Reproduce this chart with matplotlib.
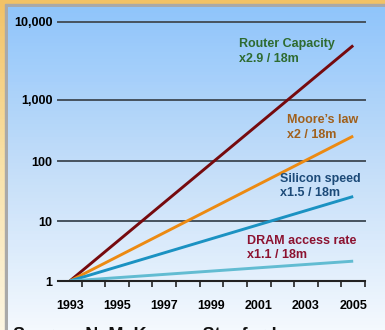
import numpy as np
import matplotlib
matplotlib.use('Agg')
import matplotlib.pyplot as plt
from matplotlib.colors import LinearSegmentedColormap
from matplotlib.patches import Rectangle

plt.rcParams['font.family'] = ['Liberation Sans', 'DejaVu Sans']
plt.rcParams['font.weight'] = 'bold'

# growth curves, normalised to 1 in 1993
years = [1993, 2005]
router = [1, 5000]
moore = [1, 256]
silicon = [1, 25.6]
dram = [1, 2.14]

label_years = [1993, 1995, 1997, 1999, 2001, 2003, 2005]
y_ticks = [1, 10, 100, 1000, 10000]
y_ticklabels = ['1', '10', '100', '1,000', '10,000']

# decades are not drawn evenly spaced on this slide, so map them piecewise
dec = [0, 1, 2, 3, 4]
pos = [0, 60, 120, 181, 259]


def fwd(v):
    return np.interp(np.log10(np.maximum(v, 1e-12)), dec, pos)


def inv(p):
    return 10 ** np.interp(p, pos, dec)


W, H = 385, 330
fig = plt.figure(figsize=(W / 100, H / 100), dpi=100)

# background: warm slide texture, grey frame, blue gradient panel
bg = fig.add_axes([0, 0, 1, 1], zorder=-5)
bg.set_xlim(0, W)
bg.set_ylim(H, 0)
bg.axis('off')
warm = LinearSegmentedColormap.from_list('warm', ['#f2c266', '#f9e2a8', '#fdf6e2'])
bg.imshow(np.linspace(0, 1, 100).reshape(-1, 1), cmap=warm, aspect='auto',
          extent=[0, W, H, 0], zorder=0)
bg.add_patch(Rectangle((5, 4), W, H, color='#a9a9a9', zorder=1))
blue = LinearSegmentedColormap.from_list('blue', ['#90c5fb', '#c4def9', '#f4f9fe'])
bg.imshow(np.linspace(0, 1, 100).reshape(-1, 1), cmap=blue, aspect='auto',
          extent=[8, W + 1, H + 1, 7], zorder=2)

ax = fig.add_axes([58 / W, (H - 281) / H, 307 / W, 259 / H])
ax.set_facecolor('none')
ax.set_yscale('function', functions=(fwd, inv))

ax.plot(years, router, color='#760a0e', lw=2.1, solid_capstyle='butt')
ax.plot(years, moore, color='#ec8a12', lw=2.1, solid_capstyle='butt')
ax.plot(years, silicon, color='#1b92c2', lw=2.1, solid_capstyle='butt')
ax.plot(years, dram, color='#62bcd2', lw=2.1, solid_capstyle='butt')

for v in y_ticks[1:]:
    ax.axhline(v, color='#46525e', lw=1.4, clip_on=False, zorder=0)

ax.set_xlim(1992.5, 2005.5)
ax.set_ylim(1, 10000)
ax.set_yticks(y_ticks)
ax.set_yticklabels(y_ticklabels)
ax.yaxis.set_minor_locator(matplotlib.ticker.NullLocator())
ax.set_xticks(label_years)
ax.set_xticklabels([str(y) for y in label_years])
ax.set_xticks(np.arange(1993.5, 2006, 1), minor=True)
ax.tick_params(axis='y', length=0, pad=4, labelsize=9)
ax.tick_params(axis='x', which='major', length=0, pad=14, labelsize=9)
ax.tick_params(axis='x', which='minor', length=4, width=1.2, direction='out', color='#222222')
for s in ['top', 'right', 'left']:
    ax.spines[s].set_visible(False)
ax.spines['bottom'].set_linewidth(1.5)
ax.spines['bottom'].set_color('#222222')

ax.text(0.590, 0.886, 'Router Capacity\nx2.9 / 18m', transform=ax.transAxes,
        color='#2e6b30', fontsize=9, va='center', ha='left', linespacing=1.25)
ax.text(0.746, 0.593, 'Moore\u2019s law\nx2 / 18m', transform=ax.transAxes,
        color='#a0601c', fontsize=9, va='center', ha='left', linespacing=1.25)
ax.text(0.723, 0.367, 'Silicon speed\nx1.5 / 18m', transform=ax.transAxes,
        color='#1c4a78', fontsize=9, va='center', ha='left', linespacing=1.25)
ax.text(0.616, 0.127, 'DRAM access rate\nx1.1 / 18m', transform=ax.transAxes,
        color='#8c1230', fontsize=9, va='center', ha='left', linespacing=1.25)

# source line runs off the bottom of the slide crop
fig.text(13 / W, (H - 340) / H, 'Source: N. McKeown, Stanford', fontsize=13,
         color='#111111', va='baseline', ha='left')

fig.savefig('out.png', dpi=100)
